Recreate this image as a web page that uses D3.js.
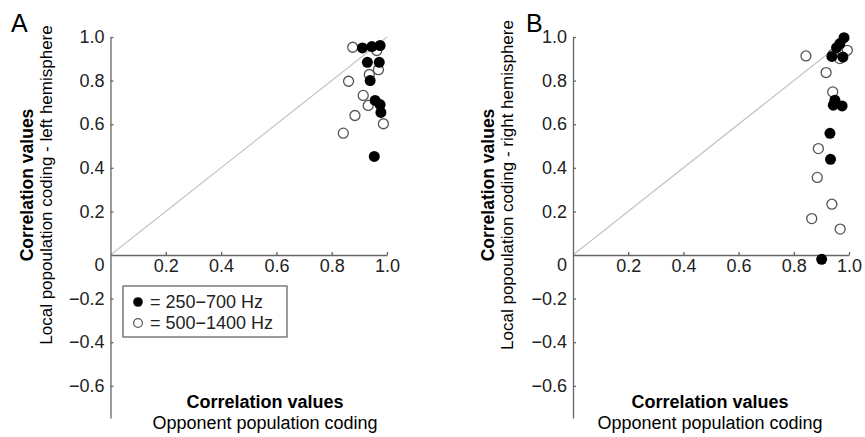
<!DOCTYPE html>
<html>
<head>
<meta charset="utf-8">
<script src="https://cdn.jsdelivr.net/npm/d3@7"></script>
<style>
  body { margin: 0; background: #fff; }
  svg { font-family: "Liberation Sans", Arial, Helvetica, sans-serif; }
  .axis path, .axis line { stroke: #666; stroke-width: 1.3; }
  .axis text { font-size: 18px; fill: #222; }
</style>
</head>
<body>
<div id="chart"></div>
<script>
// data: [opponent coding, local coding]
const leftLow = [[0.911, 0.950], [0.945, 0.956], [0.975, 0.961], [0.929, 0.884], [0.972, 0.884],
                 [0.939, 0.800], [0.957, 0.709], [0.975, 0.690], [0.978, 0.654], [0.954, 0.452]]
const leftHigh = [[0.876, 0.953], [0.963, 0.938], [0.969, 0.850], [0.936, 0.828], [0.861, 0.797],
                  [0.914, 0.732], [0.932, 0.686], [0.884, 0.640], [0.987, 0.602], [0.842, 0.559]]
const rightLow = [[0.982, 0.997], [0.967, 0.970], [0.955, 0.951], [0.938, 0.911], [0.978, 0.908],
                  [0.949, 0.710], [0.943, 0.687], [0.975, 0.684], [0.931, 0.558], [0.933, 0.439],
                  [0.901, -0.020]]
const rightHigh = [[0.844, 0.913], [0.994, 0.939], [0.967, 0.901], [0.942, 0.920], [0.917, 0.837],
                   [0.941, 0.748], [0.889, 0.488], [0.885, 0.356], [0.938, 0.233], [0.865, 0.167],
                   [0.968, 0.119]]

const xTicks = [0.2, 0.4, 0.6, 0.8, 1.0]
const yTicks = [-0.6, -0.4, -0.2, 0, 0.2, 0.4, 0.6, 0.8, 1.0]
const legendLabels = ['= 250\u2212700 Hz', '= 500\u22121400 Hz']

const W = 865, H = 437
const TOP = 37, ZERO = 255, BOTTOM = 418

const svg = d3.select('#chart').append('svg')
  .attr('width', W)
  .attr('height', H)

const fmt = (d) => d === 0 ? '0' : d3.format('.1f')(d)

function panel(opt) {
  let g = svg.append('g')

  let x = d3.scaleLinear().domain([0, 1]).range([opt.x0, opt.x1])
  let y = d3.scaleLinear().domain([0, 1]).range([ZERO, TOP])

  // diagonal
  g.append('line')
    .attr('x1', x(0)).attr('y1', y(0))
    .attr('x2', x(1)).attr('y2', y(1))
    .attr('stroke', '#c4c4c4')
    .attr('stroke-width', 1.2)

  let yAxis = g.append('g')
    .attr('class', 'axis')
    .attr('transform', 'translate(' + x(0) + ',0)')
    .call(d3.axisLeft(y.copy().domain([y.invert(BOTTOM), 1]).range([BOTTOM, TOP]))
      .tickValues(yTicks).tickFormat(fmt).tickSize(-3).tickSizeOuter(0).tickPadding(6))
  yAxis.selectAll('.tick').filter((d) => d === 0).select('line').remove()
  yAxis.selectAll('.tick').filter((d) => d === 0).select('text').attr('dy', '0.86em')

  g.append('g')
    .attr('class', 'axis')
    .attr('transform', 'translate(0,' + y(0) + ')')
    .call(d3.axisBottom(x).tickValues(xTicks).tickFormat(fmt).tickSize(-3).tickSizeOuter(0).tickPadding(4))

  // points
  g.selectAll('.high')
    .data(opt.high)
    .enter().append('circle')
      .attr('cx', (d) => x(d[0]))
      .attr('cy', (d) => y(d[1]))
      .attr('r', 5)
      .attr('fill', '#fff')
      .attr('stroke', '#555')
      .attr('stroke-width', 1.3)

  g.selectAll('.low')
    .data(opt.low)
    .enter().append('circle')
      .attr('cx', (d) => x(d[0]))
      .attr('cy', (d) => y(d[1]))
      .attr('r', 5.5)
      .attr('fill', '#000')

  // titles
  g.append('text')
    .attr('x', opt.letterX).attr('y', 32)
    .attr('font-size', 25)
    .text(opt.letter)

  g.append('text')
    .attr('x', opt.titleX).attr('y', 408)
    .attr('text-anchor', 'middle')
    .attr('font-size', 18).attr('font-weight', 'bold')
    .text('Correlation values')
  g.append('text')
    .attr('x', opt.titleX).attr('y', 429)
    .attr('text-anchor', 'middle')
    .attr('font-size', 18)
    .text('Opponent population coding')

  let yt = g.append('g')
    .attr('transform', 'translate(' + opt.yTitleX + ',185) rotate(-90)')
  yt.append('text')
    .attr('text-anchor', 'middle')
    .attr('font-size', 17.5).attr('font-weight', 'bold')
    .text('Correlation values')
  yt.append('text')
    .attr('y', 19)
    .attr('text-anchor', 'middle')
    .attr('font-size', 17)
    .text('Local popoulation coding - ' + opt.side + ' hemisphere')

  return { g: g, x: x, y: y }
}

let A = panel({ x0: 110.5, x1: 387, low: leftLow, high: leftHigh, letter: 'A', letterX: 11,
                titleX: 265, yTitleX: 33, side: 'left' })
panel({ x0: 573, x1: 849, low: rightLow, high: rightHigh, letter: 'B', letterX: 526,
        titleX: 710, yTitleX: 494, side: 'right' })

// legend (panel A only)
let lg = A.g.append('g').attr('transform', 'translate(123,286)')
lg.append('rect')
  .attr('width', 164).attr('height', 51)
  .attr('fill', '#fff').attr('stroke', '#666').attr('stroke-width', 1.3)
lg.append('circle').attr('cx', 15).attr('cy', 16).attr('r', 4.8).attr('fill', '#000')
lg.append('circle').attr('cx', 15).attr('cy', 37).attr('r', 4.4)
  .attr('fill', '#fff').attr('stroke', '#555').attr('stroke-width', 1.2)
lg.selectAll('.lt')
  .data(legendLabels)
  .enter().append('text')
    .attr('x', 27)
    .attr('y', (d, i) => 22 + i * 21)
    .attr('font-size', 18)
    .attr('fill', '#222')
    .text((d) => d)
</script>
</body>
</html>
